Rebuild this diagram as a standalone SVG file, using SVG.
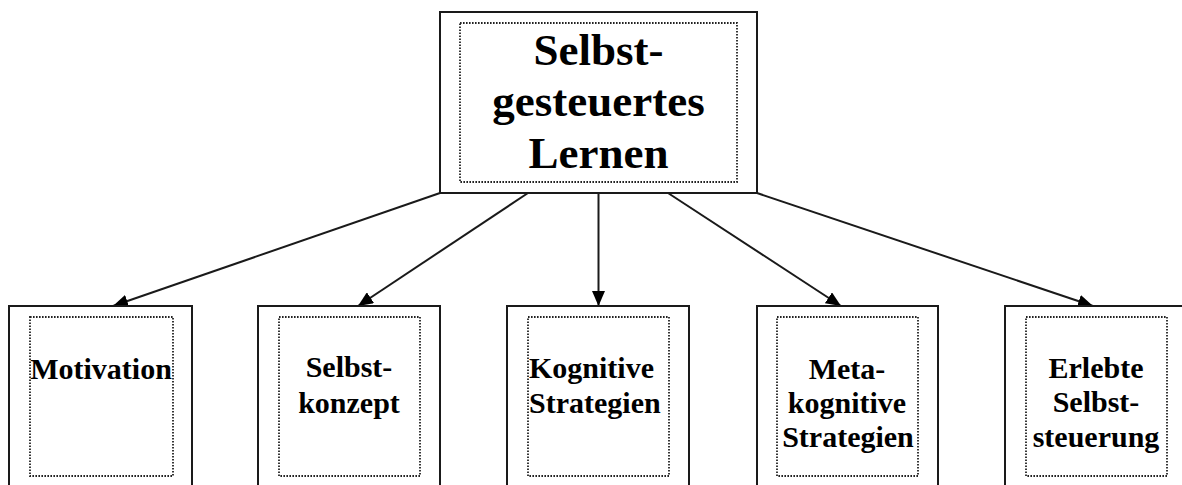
<svg xmlns="http://www.w3.org/2000/svg" width="1182" height="485" viewBox="0 0 1182 485">
<style>
.outer{fill:#fff;stroke:#1a1a1a;stroke-width:2}
.inner{fill:none;stroke:#222;stroke-width:1.8;stroke-dasharray:1.6 1.4}
.t{font-family:"Liberation Serif","Times New Roman",serif;font-weight:bold;fill:#000}
.big{font-size:45px;text-anchor:middle}
.small{font-size:30px;text-anchor:middle}
.conn{stroke:#1a1a1a;stroke-width:2;fill:none;marker-end:url(#ah)}
</style>
<defs>
<marker id="ah" viewBox="0 0 15 13" refX="15" refY="6.5" markerWidth="15" markerHeight="13" markerUnits="userSpaceOnUse" orient="auto">
<path d="M0,0 L15,6.5 L0,13 Z" fill="#000"/>
</marker>
</defs>
<rect width="1182" height="485" fill="#fff"/>
<g id="connectors">
<line class="conn" x1="440" y1="193" x2="113" y2="306"/>
<line class="conn" x1="528" y1="193" x2="358" y2="306"/>
<line class="conn" x1="598.5" y1="193" x2="598.5" y2="306"/>
<line class="conn" x1="668" y1="193" x2="841" y2="306"/>
<line class="conn" x1="757" y1="193" x2="1093" y2="306"/>
</g>
<g id="root">
<rect class="outer" x="440" y="12" width="317" height="181"/>
<rect class="inner" x="460" y="23" width="277" height="159"/>
<text class="t big" x="598.5" y="65">Selbst-</text>
<text class="t big" x="598.5" y="116">gesteuertes</text>
<text class="t big" x="598.5" y="168">Lernen</text>
</g>
<g id="motivation">
<rect class="outer" x="9" y="306" width="183" height="200"/>
<rect class="inner" x="30" y="317" width="143" height="159"/>
<text class="t small" x="101" y="379">Motivation</text>
</g>
<g id="selbstkonzept">
<rect class="outer" x="258" y="306" width="182" height="200"/>
<rect class="inner" x="279" y="317" width="141" height="159"/>
<text class="t small" x="349" y="377">Selbst-</text>
<text class="t small" x="349" y="413">konzept</text>
</g>
<g id="kognitive">
<rect class="outer" x="507" y="306" width="182" height="200"/>
<rect class="inner" x="528" y="317" width="141" height="159"/>
<text class="t" font-size="30" x="529" y="378">Kognitive</text>
<text class="t" font-size="30" x="529" y="413">Strategien</text>
</g>
<g id="metakognitive">
<rect class="outer" x="757" y="306" width="181" height="200"/>
<rect class="inner" x="777" y="317" width="141" height="159"/>
<text class="t small" x="847" y="379">Meta-</text>
<text class="t small" x="847" y="413">kognitive</text>
<text class="t small" x="848" y="447">Strategien</text>
</g>
<g id="erlebte">
<rect class="outer" x="1005" y="306" width="182" height="200"/>
<rect class="inner" x="1026" y="317" width="141" height="159"/>
<text class="t small" x="1096" y="378">Erlebte</text>
<text class="t small" x="1096" y="412">Selbst-</text>
<text class="t small" x="1096" y="447">steuerung</text>
</g>
</svg>
